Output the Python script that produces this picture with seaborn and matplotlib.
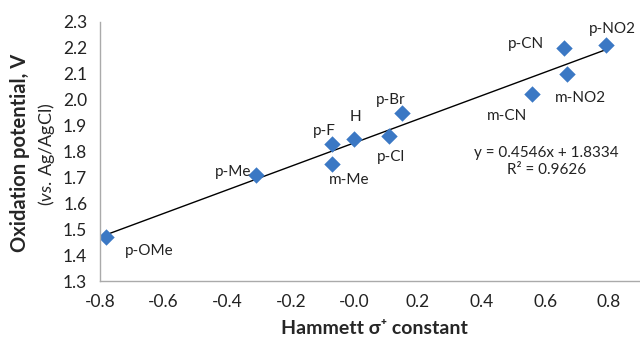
import numpy as np
import pandas as pd
import matplotlib
matplotlib.use("Agg")
import matplotlib.pyplot as plt
import seaborn as sns

# Hammett sigma+ vs oxidation potential
substituents = ["p-OMe", "p-Me", "m-Me", "p-F", "H", "p-Cl", "p-Br",
                "m-CN", "p-CN", "m-NO2", "p-NO2"]
sigma_plus = [-0.78, -0.31, -0.07, -0.07, 0.00, 0.11, 0.15, 0.56, 0.66, 0.67, 0.79]
potential = [1.47, 1.71, 1.75, 1.83, 1.85, 1.86, 1.95, 2.02, 2.20, 2.10, 2.21]
slope, intercept = 0.4546, 1.8334

# label offsets (data units) relative to each point
label_offsets = {
    "p-OMe": (0.135, -0.055), "p-Me": (-0.07, 0.01), "m-Me": (0.055, -0.06),
    "p-F": (-0.025, 0.05), "H": (0.003, 0.083), "p-Cl": (0.005, -0.08),
    "p-Br": (-0.035, 0.05), "m-CN": (-0.08, -0.085), "p-CN": (-0.12, 0.015),
    "m-NO2": (0.04, -0.093), "p-NO2": (0.02, 0.063),
}

df = pd.DataFrame({"sub": substituents, "sigma": sigma_plus, "E": potential})

sns.set_style("white")
plt.rcParams["font.family"] = ["Lato", "DejaVu Sans"]
plt.rcParams["mathtext.fontset"] = "custom"
plt.rcParams["mathtext.it"] = "Lato:italic"
plt.rcParams["mathtext.rm"] = "Lato"

fig = plt.figure(figsize=(6.4, 3.37), dpi=100)
ax = fig.add_axes([0.156, 0.166, 0.845, 0.769])

fit_x = np.array([min(sigma_plus), max(sigma_plus)])
ax.plot(fit_x, slope * fit_x + intercept, color="black", lw=1.0, zorder=1)
sns.scatterplot(data=df, x="sigma", y="E", marker="D", s=70, color="#3b78c4",
                edgecolor="#3b78c4", linewidth=0, ax=ax, zorder=2)

for name, xv, yv in zip(substituents, sigma_plus, potential):
    dx, dy = label_offsets[name]
    ax.text(xv + dx, yv + dy, name, ha="center", va="center", fontsize=11,
            color="#222222")

ax.text(0.605, 1.795, "y = 0.4546x + 1.8334", ha="center", va="center",
        fontsize=11, color="#222222")
ax.text(0.605, 1.728, "R² = 0.9626", ha="center", va="center",
        fontsize=11, color="#222222")

ax.set_xlim(-0.8, 0.9)
ax.set_ylim(1.3, 2.3)
ax.set_xticks(np.arange(-0.8, 0.81, 0.2))
ax.set_yticks(np.arange(1.3, 2.31, 0.1))
ax.set_xticklabels([f"{v:.1f}" for v in np.arange(-0.8, 0.81, 0.2)])
ax.set_yticklabels([f"{v:.1f}" for v in np.arange(1.3, 2.31, 0.1)])

for side in ["top", "right"]:
    ax.spines[side].set_visible(False)
for side in ["left", "bottom"]:
    ax.spines[side].set_color("#aaaaaa")
    ax.spines[side].set_linewidth(1.0)
ax.tick_params(axis="both", direction="out", length=4, width=1, color="#aaaaaa",
               labelsize=12.5, labelcolor="#222222", pad=5)

ax.set_xlabel("Hammett σ⁺ constant", fontsize=14, fontweight="bold",
              labelpad=5)
ax.xaxis.set_label_coords(0.508, -0.15)
ax.set_ylabel("")
fig.text(0.031, 0.546, "Oxidation potential, V", rotation=90, ha="center",
         va="center", fontsize=14.5, fontweight="bold")
fig.text(0.073, 0.543, r"($\mathit{vs.}\,$Ag/AgCl)", rotation=90, ha="center",
         va="center", fontsize=13)

fig.savefig("out.png", dpi=100)
